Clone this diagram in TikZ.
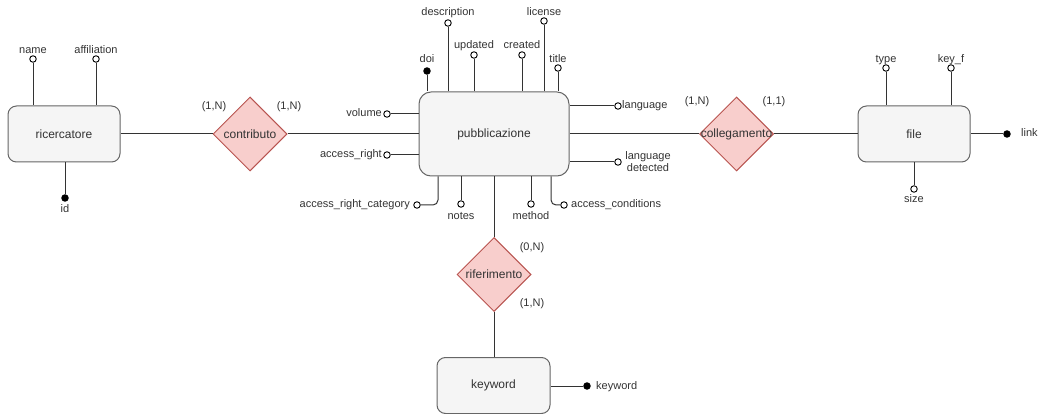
\documentclass[tikz,border=0pt]{standalone}
\usepackage{fontspec}
\setmainfont{Liberation Sans}
\usetikzlibrary{shapes.geometric}

\definecolor{entfill}{HTML}{F5F5F5}
\definecolor{entdraw}{HTML}{666666}
\definecolor{relfill}{HTML}{F8CECC}
\definecolor{reldraw}{HTML}{B85450}
\definecolor{ink}{HTML}{333333}

\tikzset{
  entity/.style={draw=entdraw, fill=entfill, rounded corners=8.5pt, line width=1pt,
    text=ink, font=\fontsize{12}{14}\selectfont, inner sep=0},
  relation/.style={diamond, shape aspect=1, draw=reldraw, fill=relfill, line width=1pt,
    minimum width=74pt, minimum height=74pt, inner sep=0},
  reltext/.style={text=ink, font=\fontsize{12}{14}\selectfont, inner sep=0},
  attr/.style={circle, draw=black, fill=white, line width=0.9pt, minimum size=6.5pt, inner sep=0},
  keyattr/.style={attr, fill=black},
  lbl/.style={font=\fontsize{11}{12}\selectfont, text=ink, inner sep=0,
    text height=8pt, text depth=2pt},
  card/.style={lbl},
  conn/.style={draw=ink, line width=1pt},
}

\begin{document}
\begin{tikzpicture}[x=1pt, y=-1pt]
\useasboundingbox (0,0) rectangle (1039,414);

% ---------- entities ----------
\node[entity, minimum width=112pt, minimum height=56pt] (ricercatore) at (64,134) {ricercatore};
\node[entity, minimum width=150pt, minimum height=84pt, rounded corners=12pt] (pub) at (494,134) {pubblicazione};
\node[entity, minimum width=112pt, minimum height=56pt] (file) at (914,134) {file};
\node[entity, minimum width=113pt, minimum height=56pt] (keyword) at (493.5,385.5) {keyword};

% ---------- relationships ----------
\node[relation] (contributo) at (250,134) {};
\node[reltext] (contributo-t) at (contributo) {contributo};
\node[relation] (collegamento) at (736.5,134) {};
\node[reltext] (collegamento-t) at (collegamento) {collegamento};
\node[relation] (riferimento) at (494,274.5) {};
\node[reltext] (riferimento-t) at (riferimento) {riferimento};

% ---------- relationship links ----------
\draw[conn] (ricercatore.east) -- (contributo.west);
\draw[conn] (contributo.east) -- (pub.west);
\draw[conn] (pub.east) -- (collegamento.west);
\draw[conn] (collegamento.east) -- (file.west);
\draw[conn] (riferimento.north |- pub.south) -- (riferimento.north);
\draw[conn] (riferimento.south) -- (riferimento.south |- keyword.north);

% ---------- cardinalities ----------
\node[card] (c-ric) at (214,107) {(1,N)};
\node[card] (c-pub1) at (289,107) {(1,N)};
\node[card] (c-pub2) at (697,102) {(1,N)};
\node[card] (c-file) at (774,102) {(1,1)};
\node[card] (c-pub3) at (532,248) {(0,N)};
\node[card] (c-kw) at (532,303) {(1,N)};

% ---------- ricercatore attributes ----------
\node[attr] (a-name) at (33,59) {};
\node[lbl] (l-name) at (33,51) {name};
\draw[conn] (a-name) -- (a-name |- ricercatore.north);
\node[attr] (a-affil) at (96,59) {};
\node[lbl] (l-affil) at (96,51) {affiliation};
\draw[conn] (a-affil) -- (a-affil |- ricercatore.north);
\node[keyattr] (a-id) at (65,198) {};
\node[lbl] (l-id) at (65,210) {id};
\draw[conn] (a-id) -- (a-id |- ricercatore.south);

% ---------- pubblicazione attributes: top ----------
\node[keyattr] (a-doi) at (427,71) {};
\node[lbl] (l-doi) at (427,60) {doi};
\draw[conn] (a-doi) -- (a-doi |- pub.north);
\node[attr] (a-desc) at (448,23) {};
\node[lbl] (l-desc) at (448,13) {description};
\draw[conn] (a-desc) -- (a-desc |- pub.north);
\node[attr] (a-upd) at (474,55) {};
\node[lbl] (l-upd) at (474,46) {updated};
\draw[conn] (a-upd) -- (a-upd |- pub.north);
\node[attr] (a-cre) at (522,55) {};
\node[lbl] (l-cre) at (522,46) {created};
\draw[conn] (a-cre) -- (a-cre |- pub.north);
\node[attr] (a-lic) at (544,21) {};
\node[lbl] (l-lic) at (544,13) {license};
\draw[conn] (a-lic) -- (a-lic |- pub.north);
\node[attr] (a-title) at (558,68) {};
\node[lbl] (l-title) at (558,60) {title};
\draw[conn] (a-title) -- (a-title |- pub.north);

% ---------- pubblicazione attributes: sides ----------
\node[attr] (a-vol) at (387,114) {};
\node[lbl, anchor=east] (l-vol) at (382,114) {volume};
\draw[conn] (a-vol) -- (a-vol -| pub.west);
\node[attr] (a-acr) at (387,155) {};
\node[lbl, anchor=east] (l-acr) at (382,155) {access\_right};
\draw[conn] (a-acr) -- (a-acr -| pub.west);
\node[attr] (a-lang) at (618,106) {};
\node[lbl, anchor=west] (l-lang) at (622,106) {language};
\draw[conn] (a-lang) -- (a-lang -| pub.east);
\node[attr] (a-langd) at (618,162) {};
\node[font=\fontsize{11}{12}\selectfont, text=ink, inner sep=0, align=center] (l-langd) at (648,162) {language\\detected};
\draw[conn] (a-langd) -- (a-langd -| pub.east);

% ---------- pubblicazione attributes: bottom ----------
\coordinate (arc-bend) at (438,205);
\node[attr] (a-arc) at (417,205) {};
\node[lbl, anchor=east] (l-arc) at (410,205) {access\_right\_category};
\draw[conn, rounded corners=5pt] (arc-bend |- pub.south) -- (arc-bend) -- (a-arc);
\node[attr] (a-notes) at (461,204) {};
\node[lbl] (l-notes) at (461,217) {notes};
\draw[conn] (a-notes) -- (a-notes |- pub.south);
\node[attr] (a-meth) at (531,204) {};
\node[lbl] (l-meth) at (531,217) {method};
\draw[conn] (a-meth) -- (a-meth |- pub.south);
\coordinate (acc-bend) at (551,205);
\node[attr] (a-acc) at (564,205) {};
\node[lbl, anchor=west] (l-acc) at (571,205) {access\_conditions};
\draw[conn, rounded corners=5pt] (acc-bend |- pub.south) -- (acc-bend) -- (a-acc);

% ---------- file attributes ----------
\node[attr] (a-type) at (886,68) {};
\node[lbl] (l-type) at (886,60) {type};
\draw[conn] (a-type) -- (a-type |- file.north);
\node[attr] (a-key) at (951,68) {};
\node[lbl] (l-key) at (951,60) {key\_f};
\draw[conn] (a-key) -- (a-key |- file.north);
\node[attr] (a-size) at (914,189) {};
\node[lbl] (l-size) at (914,200) {size};
\draw[conn] (a-size) -- (a-size |- file.south);
\node[keyattr] (a-link) at (1007,134) {};
\node[lbl, anchor=west] (l-link) at (1021,134) {link};
\draw[conn] (a-link) -- (a-link -| file.east);

% ---------- keyword attribute ----------
\node[keyattr] (a-kw) at (587,386) {};
\node[lbl, anchor=west] (l-kw) at (596,386) {keyword};
\draw[conn] (a-kw) -- (a-kw -| keyword.east);
\end{tikzpicture}
\end{document}
